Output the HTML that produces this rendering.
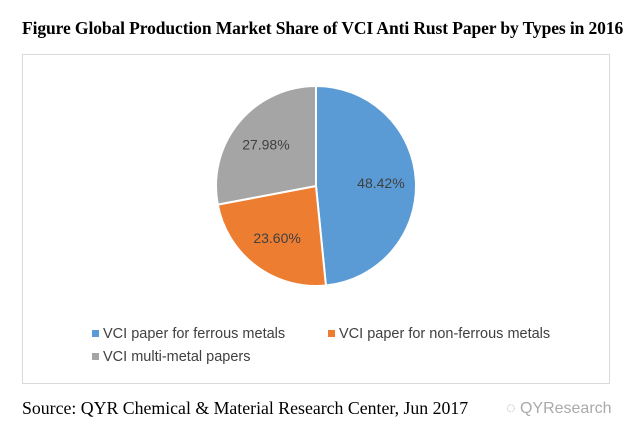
<!DOCTYPE html>
<html><head><meta charset="utf-8"><style>
body{margin:0;width:637px;height:439px;background:#fff;position:relative;overflow:hidden;font-family:"Liberation Sans",sans-serif}
.t{position:absolute;white-space:nowrap}
</style></head><body>
<div class="t" style="left:22px;top:18px;font:bold 17.5px 'Liberation Serif',serif;color:#000;letter-spacing:-0.1px">Figure Global Production Market Share of VCI Anti Rust Paper by Types in 2016</div>
<div style="position:absolute;left:22px;top:54px;width:586px;height:328px;border:1px solid #d9d9d9"></div>
<svg width="637" height="439" style="position:absolute;left:0;top:0">
<g id="pie"></g>
</svg>
<div class="t" style="left:92px;top:326px;font-size:14.5px;color:#404040"><span style="display:inline-block;width:7px;height:7px;background:#5b9bd5;margin-right:4px;vertical-align:1px"></span>VCI paper for ferrous metals</div>
<div class="t" style="left:328px;top:326px;font-size:14.5px;color:#404040"><span style="display:inline-block;width:7px;height:7px;background:#ed7d31;margin-right:4px;vertical-align:1px"></span>VCI paper for non-ferrous metals</div>
<div class="t" style="left:92px;top:349px;font-size:14.5px;color:#404040"><span style="display:inline-block;width:7px;height:7px;background:#a5a5a5;margin-right:4px;vertical-align:1px"></span>VCI multi-metal papers</div>
<div class="t" style="left:22px;top:398px;font:17.8px 'Liberation Serif',serif;color:#000">Source: QYR Chemical &amp; Material Research Center, Jun 2017</div>
<div class="t" style="left:506px;top:400px;font-size:16px;color:#aaa">◌ QYResearch</div>
<script>
const categories=["VCI paper for ferrous metals","VCI paper for non-ferrous metals","VCI multi-metal papers"];
const values=[48.42,23.60,27.98];
const labels=["48.42%","23.60%","27.98%"];
const colors=["#5b9bd5","#ed7d31","#a5a5a5"];
const cx=316,cy=186,r=100;
const g=document.getElementById('pie');
const total=values.reduce((a,b)=>a+b,0);
let a0=-Math.PI/2;
const ns="http://www.w3.org/2000/svg";
values.forEach((v,i)=>{
  const a1=a0+v/total*2*Math.PI;
  const x0=cx+r*Math.cos(a0),y0=cy+r*Math.sin(a0),x1=cx+r*Math.cos(a1),y1=cy+r*Math.sin(a1);
  const p=document.createElementNS(ns,'path');
  p.setAttribute('d',`M${cx},${cy}L${x0},${y0}A${r},${r} 0 ${a1-a0>Math.PI?1:0} 1 ${x1},${y1}Z`);
  p.setAttribute('fill',colors[i]);p.setAttribute('stroke','#fff');p.setAttribute('stroke-width','2');
  
  
  g.appendChild(p);
  const m=(a0+a1)/2;
  const t=document.createElementNS(ns,'text');
  t.setAttribute('x',cx+0.65*r*Math.cos(m));t.setAttribute('y',cy+0.65*r*Math.sin(m)+5);
  t.setAttribute('text-anchor','middle');t.setAttribute('font-size','14');t.setAttribute('fill','#404040');
  t.setAttribute('font-family','Liberation Sans, sans-serif');
  t.textContent=labels[i];
  
  
  g.appendChild(t);
  a0=a1;
});
</script>
</body></html>
